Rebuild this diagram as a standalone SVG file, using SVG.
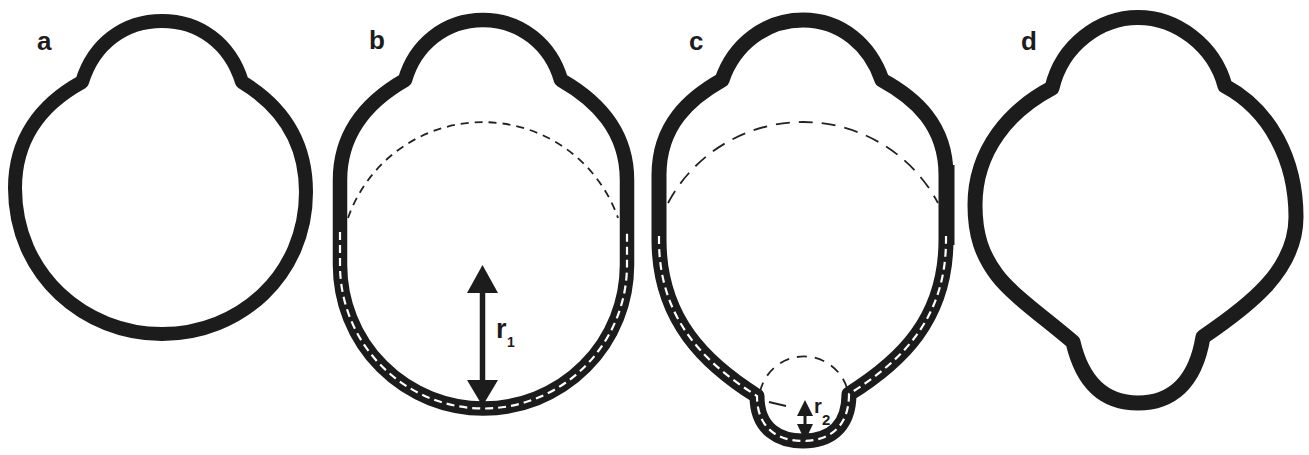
<svg xmlns="http://www.w3.org/2000/svg" width="1309" height="455" viewBox="0 0 1309 455">
<style>
.wall{fill:none;stroke:#1c1c1c;stroke-linejoin:round;stroke-linecap:butt}
.wd{fill:none;stroke:#fff;stroke-width:2.2;stroke-dasharray:8 5}
.td{fill:none;stroke:#222;stroke-width:1.8}
.lbl{font-family:"Liberation Sans",Arial,sans-serif;font-weight:bold;font-size:26px;fill:#1c1c1c}
.sym{font-family:"Liberation Sans",Arial,sans-serif;font-weight:bold;fill:#1c1c1c}
.ah{fill:#1c1c1c}
</style>
<rect width="1309" height="455" fill="#fff"/>

<g id="panel-a">
<path class="wall" stroke-width="14" d="M 82 82 C 94 43 125 21 162 21 C 199 21 230 43 242 82 C 280 105 306 140 306 192 C 306 275 240 334 162 334 C 85 334 15 275 15 188 C 15 140 40 105 82 82 Z"/>
<text class="lbl" x="37" y="50">a</text>
</g>

<g id="panel-b">
<path class="wall" stroke-width="14.5" d="M 340 265 L 340 180 C 340 130 370 100 405 80 C 415 45 445 20 483 20 C 521 20 551 45 561 80 C 596 100 627 130 627 180 L 627 265 A 143.5 143.5 0 0 1 340 265 Z"/>
<path class="wd" d="M 340 232 L 340 265 A 143.5 143.5 0 0 0 627 265 L 627 232"/>
<path class="td" stroke-dasharray="8 6" d="M 348 218 A 143 143 0 0 1 618 218"/>
<text class="lbl" x="369" y="49">b</text>
</g>

<g id="panel-c">
<path class="wall" stroke-width="15" d="M 659 240 L 659 175 C 659 125 690 98 722 80 C 734 45 765 20 803 20 C 841 20 870 45 882 80 C 915 98 946 125 946 175 L 946 240 C 946 320 900 362 849 394 C 849 430 826 441 803 441 C 780 441 757 430 757 396 C 706 364 659 320 659 240 Z"/>
<line x1="951" y1="165" x2="951" y2="245" stroke="#1c1c1c" stroke-width="7"/>
<path class="wd" d="M 659 236 L 659 240 C 659 320 706 364 757 396 C 757 430 780 441 803 441 C 826 441 849 430 849 394 C 900 362 946 320 946 240 L 946 236"/>
<path class="td" stroke-dasharray="14 9" d="M 668 203 A 153 153 0 0 1 938 203"/>
<path class="td" stroke-dasharray="10 8" d="M 760 392 A 45 45 0 0 1 848 392"/>
<line x1="769" y1="402" x2="786" y2="406" stroke="#222" stroke-width="1.8"/>
<text class="lbl" x="689" y="50">c</text>
</g>

<g id="panel-d">
<path class="wall" stroke-width="15" d="M 1052 88 C 1062 45 1100 17.5 1138 17.5 C 1176 17.5 1214 45 1225 86 C 1270 110 1296 160 1296 217 C 1296 270 1250 305 1203 337 C 1195 385 1170 403 1138 403 C 1106 403 1083 385 1073 342 C 1045 318 1012 295 997 275 C 982 255 975 235 975 205 C 975 150 1010 110 1052 88 Z"/>
<text class="lbl" x="1021" y="50">d</text>
</g>

<g id="connectors">
<line x1="482.5" y1="290" x2="482.5" y2="383" stroke="#1c1c1c" stroke-width="5.5"/>
<polygon class="ah" points="482.5,265 467,293 498,293"/>
<polygon class="ah" points="467,380 498,380 482.5,406"/>
<text class="sym" x="496" y="338" font-size="27">r</text>
<text class="sym" x="507" y="347" font-size="14">1</text>

<line x1="805" y1="412" x2="805" y2="428" stroke="#1c1c1c" stroke-width="3"/>
<polygon class="ah" points="805,400 797,416 813,416"/>
<polygon class="ah" points="797,424 813,424 805,441"/>
<text class="sym" x="814" y="413" font-size="20">r</text>
<text class="sym" x="822" y="425" font-size="15">2</text>
</g>
</svg>
